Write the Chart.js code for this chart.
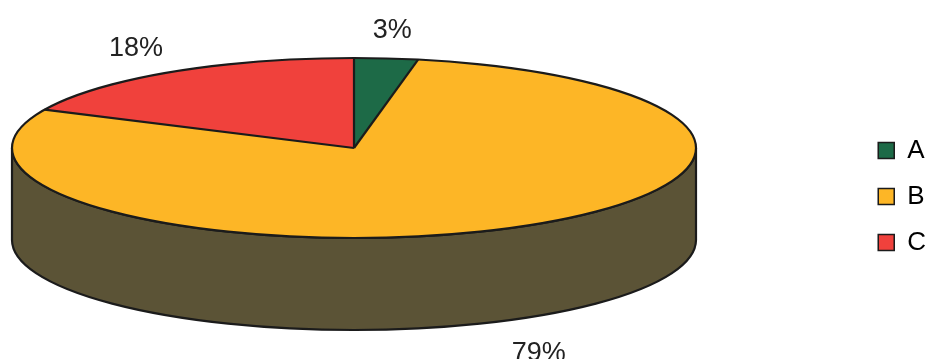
<!DOCTYPE html>
<html>
<head>
<meta charset="utf-8">
<script src="https://cdn.jsdelivr.net/npm/chart.js@4"></script>
<style>
  html, body { margin: 0; background: #fff; }
  #wrap { width: 926px; height: 359px; position: relative; }
</style>
</head>
<body>
<div id="wrap"><canvas id="pie"></canvas></div>
<script>
const labels = ["A", "B", "C"];
const shares = [3, 79, 18];
const colors = ["#1d6a47", "#fdb626", "#f0413c"];
const rimColors = ["#1a3d2c", "#5b5336", "#6e2a26"];

// ellipse the pie is squashed into, and how deep its rim is
const CX = 354, CY = 148, RX = 342, RY = 90, DEPTH = 92;
const EDGE = "#1b1b1b";
const FONT = "'Liberation Sans', Arial, sans-serif";

const tilt = {
  id: "tilt",
  beforeDatasetsDraw(chart) {
    const ctx = chart.ctx;
    const arcs = chart.getDatasetMeta(0).data;

    // rim: only the part of each slice that faces the front
    arcs.forEach((arc, i) => {
      for (let k = -1; k <= 1; k++) {
        const a = Math.max(arc.startAngle, 2 * Math.PI * k);
        const b = Math.min(arc.endAngle, 2 * Math.PI * k + Math.PI);
        if (b <= a) continue;
        ctx.beginPath();
        ctx.ellipse(CX, CY, RX, RY, 0, a, b);
        ctx.lineTo(CX + RX * Math.cos(b), CY + DEPTH + RY * Math.sin(b));
        ctx.ellipse(CX, CY + DEPTH, RX, RY, 0, b, a, true);
        ctx.closePath();
        ctx.fillStyle = rimColors[i];
        ctx.fill();
        ctx.lineWidth = 2.2;
        ctx.strokeStyle = EDGE;
        ctx.stroke();
      }
    });

    // squash the round pie into the ellipse while the slices are drawn
    const p = arcs[0];
    ctx.save();
    ctx.translate(CX, CY);
    ctx.scale(RX / p.outerRadius, RY / p.outerRadius);
    ctx.translate(-p.x, -p.y);
  },
  afterDatasetsDraw(chart) {
    const ctx = chart.ctx;
    ctx.restore();
    const arcs = chart.getDatasetMeta(0).data;

    ctx.save();
    ctx.lineWidth = 2.2;
    ctx.strokeStyle = EDGE;
    ctx.beginPath();
    ctx.ellipse(CX, CY, RX, RY, 0, 0, 2 * Math.PI);
    ctx.stroke();
    arcs.forEach((arc) => {
      ctx.beginPath();
      ctx.moveTo(CX, CY);
      ctx.lineTo(CX + RX * Math.cos(arc.startAngle), CY + RY * Math.sin(arc.startAngle));
      ctx.stroke();
    });

    // percentage labels just outside each slice
    ctx.fillStyle = "#222";
    ctx.font = "27px " + FONT;
    ctx.textAlign = "center";
    ctx.textBaseline = "middle";
    arcs.forEach((arc, i) => {
      const mid = (arc.startAngle + arc.endAngle) / 2;
      const s = Math.sin(mid);
      const x = CX + (RX + 65) * Math.cos(mid);
      const y = s > 0 ? CY + DEPTH + (RY + 37) * s : CY + (RY + 28) * s;
      ctx.fillText(shares[i] + "%", x, y);
    });
    ctx.restore();
  }
};

new Chart(document.getElementById("pie"), {
  type: "pie",
  data: {
    labels: labels,
    datasets: [{
      data: shares,
      backgroundColor: colors,
      borderWidth: 0
    }]
  },
  options: {
    responsive: true,
    maintainAspectRatio: false,
    animation: false,
    events: [],
    layout: { padding: { right: -10, top: 34 } },
    plugins: {
      tooltip: { enabled: false },
      legend: {
        position: "right",
        labels: {
          color: "#222",
          font: { size: 26, family: FONT },
          boxWidth: 16,
          boxHeight: 16,
          padding: 20,
          generateLabels: () => labels.map((t, i) => ({
            text: t,
            fillStyle: colors[i],
            strokeStyle: EDGE,
            lineWidth: 1.5,
            hidden: false,
            index: i
          }))
        }
      }
    }
  },
  plugins: [tilt]
});
</script>
</body>
</html>
